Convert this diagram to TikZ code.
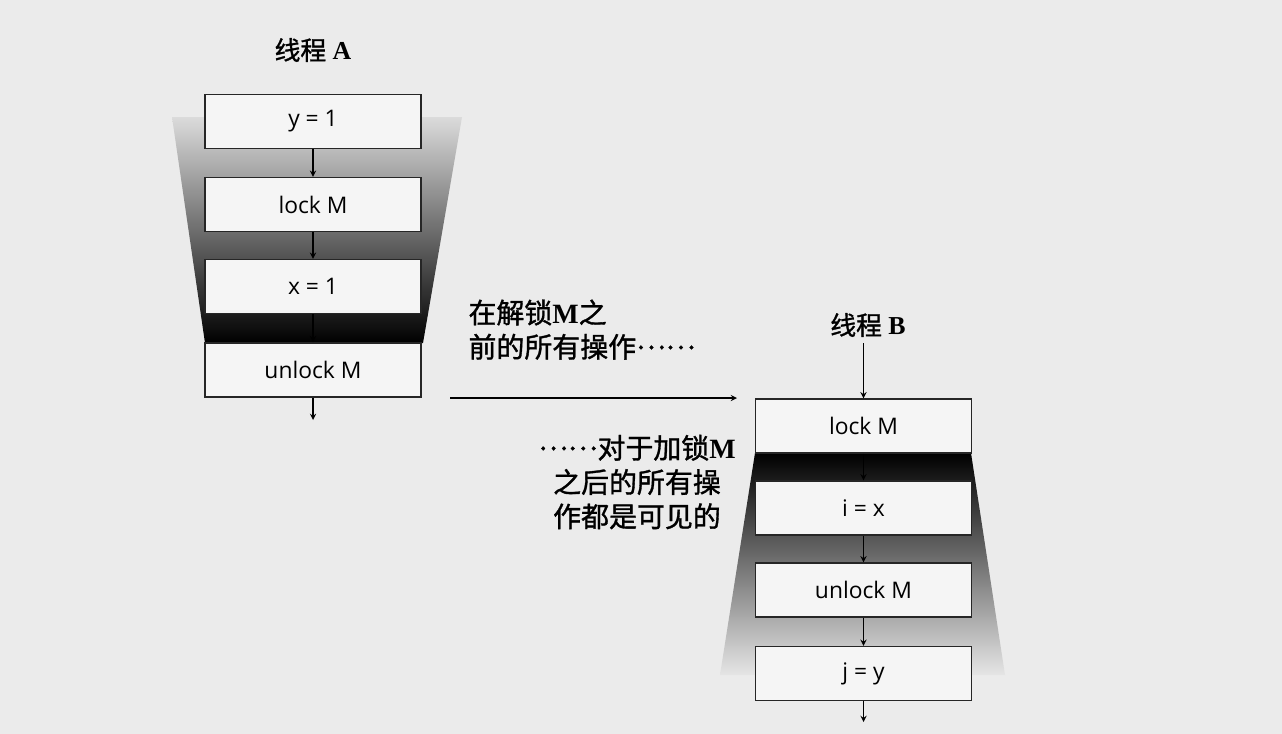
\documentclass[tikz,border=0pt]{standalone}
\usepackage{fontspec}
\setmainfont{Liberation Serif}
\newfontfamily\cjk[FakeBold=1.2]{Noto Sans CJK SC}
\newfontfamily\opfont{Open Sans}
\definecolor{paper}{HTML}{EBEBEB}
\definecolor{boxfill}{HTML}{F5F5F5}
\newcommand{\cnellipsis}{\raisebox{0.3em}{……}}
\newcommand{\serifM}{{\rmfamily\bfseries M}}

\begin{document}
\begin{tikzpicture}[x=0.02cm,y=-0.02cm,->,>=stealth,line width=0.6pt]
   \fill[paper,draw=none] (0,0) rectangle (1282,734);
   \useasboundingbox (0,0) rectangle (1282,734);
   \tikzstyle{op}=[rectangle, draw=black!85, line width=0.8pt, fill=boxfill,
                   minimum width=4.32cm, minimum height=1.08cm, inner sep=0pt,
                   font=\opfont\fontsize{13}{15}\selectfont]
   \tikzstyle{title}=[font=\fontsize{14.7}{17}\selectfont]
   \tikzstyle{note}=[font=\cjk\fontsize{15.9}{19.5}\selectfont, inner sep=0pt]
   % shaded regions behind the threads
   \shade[top color=black!14, bottom color=black, draw=none]
      (172,117) -- (462,117) -- (423,343) -- (205,343) -- cycle;
   \shade[top color=black, bottom color=black!10, draw=none]
      (755,453) -- (971,453) -- (1005,675) -- (720,675) -- cycle;
   % thread A
   \node[title] (ta) at (313,50) {{\cjk 线程} \textbf{A}};
   \foreach \i/\y/\op in {1/121.5/{y = 1},2/204.5/{lock M},3/286.5/{x = 1},4/370/{unlock M}} {
       \node[op] (a\i) at (313,\y) {\op};
   }
   \foreach \i/\j in {1/2,2/3,3/4} {
       \path (a\i) edge (a\j);
   }
   \coordinate (aout) at (313,420);
   \path (a4) edge (aout);
   % thread B
   \node[title] (tb) at (868,325) {{\cjk 线程} \textbf{B}};
   \foreach \i/\y/\op in {1/426/{lock M},2/508/{i = x},3/590/{unlock M},4/673.5/{j = y}} {
       \node[op] (b\i) at (863.5,\y) {\op};
   }
   \foreach \i/\j in {1/2,2/3,3/4} {
       \path (b\i) edge (b\j);
   }
   \coordinate (bout) at (863.5,722);
   \path (b4) edge (bout);
   \path (tb.south -| b1.north) edge (b1.north);
   % release -> acquire
   \coordinate (rel) at (450,398);
   \coordinate (acq) at (737,398);
   \path (rel) edge (acq);
   \node[note, align=left, anchor=north west] (before) at (468,299)
      {在解锁\serifM 之\\前的所有操作\cnellipsis};
   \node[note, align=center] (after) at (637,482)
      {\cnellipsis 对于加锁\serifM\\之后的所有操\\作都是可见的};
\end{tikzpicture}
\end{document}
